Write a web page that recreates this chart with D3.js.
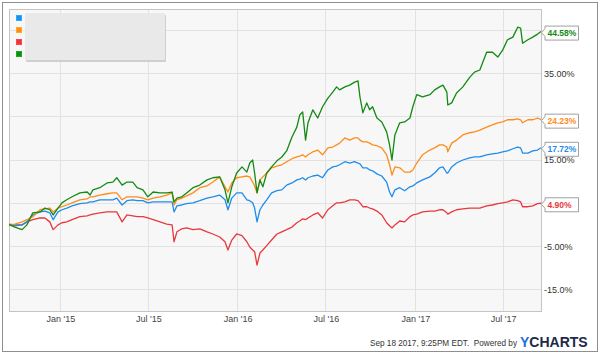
<!DOCTYPE html>
<html><head><meta charset="utf-8">
<script src="https://cdn.jsdelivr.net/npm/d3@7"></script>
<style>
html,body{margin:0;padding:0;background:#fff;}
svg{display:block;font-family:"Liberation Sans",Arial,sans-serif;}
</style></head>
<body>
<svg id="chart" width="600" height="355"></svg>
<script>
const dates = ["2014-09-18","2014-09-30","2014-10-15","2014-10-25","2014-11-06","2014-11-21","2014-12-01","2014-12-11","2014-12-18","2014-12-28",
"2015-01-05","2015-01-15","2015-01-26","2015-02-11","2015-02-26","2015-03-04","2015-03-10","2015-03-24","2015-04-08","2015-04-20",
"2015-04-28","2015-05-09","2015-05-19","2015-05-31","2015-06-09","2015-06-21","2015-07-01","2015-07-12","2015-07-26","2015-08-09",
"2015-08-20","2015-08-24","2015-08-30","2015-09-09","2015-09-19","2015-10-02","2015-10-16","2015-10-31","2015-11-12","2015-11-26",
"2015-12-07","2015-12-13","2015-12-21","2015-12-31","2016-01-11","2016-01-21","2016-01-27","2016-02-02","2016-02-06","2016-02-11",
"2016-02-17","2016-02-23","2016-03-02","2016-03-12","2016-03-23","2016-04-02","2016-04-12","2016-04-23","2016-05-03","2016-05-09",
"2016-05-15","2016-05-21","2016-05-26","2016-06-05","2016-06-15","2016-06-25","2016-07-06","2016-07-16","2016-07-24","2016-07-30",
"2016-08-10","2016-08-20","2016-08-30","2016-09-06","2016-09-10","2016-09-16","2016-09-24","2016-09-30","2016-10-06","2016-10-15",
"2016-10-25","2016-11-04","2016-11-10","2016-11-15","2016-11-21","2016-12-01","2016-12-11","2016-12-22","2016-12-28","2017-01-05",
"2017-01-17","2017-02-01","2017-02-11","2017-02-21","2017-02-28","2017-03-08","2017-03-10","2017-03-18","2017-03-28","2017-04-10",
"2017-04-24","2017-05-04","2017-05-15","2017-05-29","2017-06-10","2017-06-21","2017-07-01","2017-07-11","2017-07-22","2017-08-01",
"2017-08-07","2017-08-11","2017-08-22","2017-09-01","2017-09-11","2017-09-18"];

const blueValues = [0,-0.3,-0.1,0.6,2.2,2.9,3.1,2.7,1.1,2.9,
3.4,3.8,4.3,4.8,5.0,5.2,5.2,5.7,5.7,5.7,
6.1,4.5,5.5,5.7,5.5,5.5,5.0,5.2,5.2,5.2,
5.2,2.9,4.3,4.5,4.8,5.0,5.5,6.1,6.4,6.8,
5.7,3.4,6.1,7.3,7.3,5.7,5.5,5.0,3.8,0.6,
3.4,4.5,5.7,7.3,7.8,8.0,9.1,9.6,10.3,10.5,
10.8,10.3,10.8,11.2,11.4,10.8,12.6,13.3,13.5,13.8,
14.5,14.2,14.5,14.2,14.0,13.1,13.1,12.6,12.4,11.7,
11.2,9.8,7.5,6.4,8.0,8.5,7.8,8.7,8.9,9.6,
10.3,11.0,11.9,13.1,13.3,11.9,11.9,13.3,14.2,14.9,
15.4,15.6,15.6,16.1,16.3,16.5,16.8,17.0,17.5,17.9,
17.7,16.5,16.5,17.0,17.2,17.72];

const orangeValues = [0,0.1,0.6,1.1,1.8,3.4,3.6,3.8,2.9,3.8,
4.1,4.5,5.0,5.7,5.9,6.4,6.4,6.8,7.1,7.3,
7.3,5.7,6.4,6.4,6.4,6.1,5.7,6.1,6.4,6.8,
7.3,4.5,5.7,6.1,6.6,7.3,8.5,8.9,9.8,11.0,
8.7,7.5,9.6,10.8,11.0,11.2,11.0,9.8,8.9,7.3,
10.3,11.0,11.9,13.1,13.5,13.8,14.5,15.2,15.6,15.8,
16.1,15.6,16.1,16.8,17.2,16.1,17.7,17.9,18.4,18.8,
20.0,19.5,20.0,20.0,19.5,19.1,19.1,18.8,18.4,18.2,
17.7,16.1,13.8,11.4,13.3,13.1,12.1,12.1,12.6,14.2,
16.1,17.2,17.7,18.4,18.4,17.9,16.8,18.8,19.5,20.7,
21.2,21.4,21.8,22.5,23.0,23.5,23.7,24.2,24.2,24.4,
24.2,23.5,24.2,24.2,24.6,24.23];

const redValues = [0,-0.1,-0.1,0.6,1.1,1.5,1.5,0.6,-1.2,-0.1,
0.4,0.6,1.1,1.8,2.0,2.2,2.4,2.7,2.9,2.9,
2.9,0.6,2.2,2.0,1.8,1.8,1.5,1.1,0.6,0.1,
-0.1,-4.0,-1.7,-1.0,-0.8,-1.2,-1.0,-1.7,-2.2,-2.9,
-4.0,-5.9,-3.6,-2.2,-2.6,-4.0,-5.2,-5.9,-6.3,-9.4,
-6.6,-5.9,-4.9,-3.6,-2.2,-1.7,-1.2,-0.6,0.4,0.8,
1.3,1.1,1.5,2.2,2.7,1.5,3.4,4.3,5.0,5.0,
5.2,5.7,5.7,5.5,5.0,4.1,4.1,3.8,3.6,3.1,
2.2,0.4,-0.3,-0.8,-0.1,0.8,0.6,1.8,2.2,2.4,
2.9,3.1,3.1,3.4,3.4,2.7,2.4,2.9,3.4,3.6,
3.8,3.8,3.8,4.3,4.5,4.8,5.0,5.2,5.7,5.5,
5.2,4.1,4.1,4.3,4.8,4.90];

const greenValues = [0,-0.6,-1.2,-0.1,2.7,2.9,3.8,3.4,2.2,3.8,
5.0,5.7,6.4,7.3,7.5,6.8,8.0,8.5,9.6,9.8,
10.8,9.1,9.8,9.8,8.5,8.0,6.4,7.5,7.3,7.3,
7.5,5.2,6.1,6.4,7.3,8.5,9.1,10.3,10.8,11.0,
8.0,5.0,8.7,11.9,13.3,12.1,14.2,14.9,11.9,7.3,
10.3,8.7,11.9,13.3,14.7,15.6,17.0,20.2,22.5,25.3,
26.0,19.5,23.5,26.5,24.6,27.2,29.2,30.6,31.8,31.1,
31.8,32.2,32.9,33.2,29.5,25.8,28.1,26.5,27.2,24.6,
23.7,21.4,18.4,14.9,20.7,23.5,23.7,24.6,27.2,30.0,
29.5,30.0,31.1,31.8,32.2,30.6,27.6,28.1,30.4,31.8,
34.0,35.2,35.7,39.8,39.8,38.7,40.3,42.7,43.3,45.6,
45.4,41.9,42.7,43.3,44.0,44.58];

const seriesColors = ["#1f8ceb","#ff8c1a","#e8383d","#138a13"]; // blue, orange, red, green (legend order)
const xTickDates = ["2015-01-01","2015-07-01","2016-01-01","2016-07-01","2017-01-01","2017-07-01"];
const xTickLabels = ["Jan '15","Jul '15","Jan '16","Jul '16","Jan '17","Jul '17"];
const yGridValues = [-15,-5,5,15,25,35,45];
const yLabelValues = [35,15,-5,-15];
const yLabelTexts = ["35.00%","15.00%","-5.00%","-15.0%"];
const footerText = "Sep 18 2017, 9:25PM EDT.  Powered by";

const parse = d3.utcParse("%Y-%m-%d");
const dateObjs = dates.map(parse);
const svg = d3.select("#chart");

const plot = {x0: 9, x1: 541, y0: 9, y1: 311};
const x = d3.scaleUtc().domain([parse("2014-09-18"), parse("2017-09-18")]).range([plot.x0, plot.x1]);
const y = d3.scaleLinear().domain([-20, 49.8]).range([plot.y1, plot.y0]);

// outer frame
svg.append("rect").attr("x",2.5).attr("y",2.5).attr("width",595).attr("height",349)
  .attr("fill","#fff").attr("stroke","#8f8f8f").attr("stroke-width",1);

// plot background
svg.append("rect").attr("x",plot.x0+0.5).attr("y",plot.y0+0.5)
  .attr("width",plot.x1-plot.x0).attr("height",plot.y1-plot.y0)
  .attr("fill","#f7f7f7");

// gridlines
const grid = svg.append("g");
grid.selectAll("line.h").data(yGridValues).join("line")
  .attr("x1",plot.x0).attr("x2",plot.x1)
  .attr("y1",d=>Math.round(y(d))+0.5).attr("y2",d=>Math.round(y(d))+0.5)
  .attr("stroke","#e2e2e2").attr("stroke-width",1);
grid.selectAll("line.v").data(xTickDates).join("line")
  .attr("y1",plot.y0).attr("y2",plot.y1)
  .attr("x1",d=>Math.round(x(parse(d)))+0.5).attr("x2",d=>Math.round(x(parse(d)))+0.5)
  .attr("stroke","#e2e2e2").attr("stroke-width",1);

// plot border
svg.append("rect").attr("x",plot.x0+0.5).attr("y",plot.y0+0.5)
  .attr("width",plot.x1-plot.x0).attr("height",plot.y1-plot.y0)
  .attr("fill","none").attr("stroke","#c4c4c4");

// x axis labels
svg.append("g").selectAll("text").data(xTickDates).join("text")
  .attr("x",d=>x(parse(d))+1).attr("y",322)
  .attr("text-anchor","middle").attr("font-size",9).attr("fill","#444")
  .text((d,i)=>xTickLabels[i]);

// y axis labels
svg.append("g").selectAll("text").data(yLabelValues).join("text")
  .attr("x",544).attr("y",d=>y(d)+3.5)
  .attr("font-size",9).attr("fill","#333")
  .text((d,i)=>yLabelTexts[i]);

// lines
svg.append("clipPath").attr("id","clip").append("rect")
  .attr("x",plot.x0).attr("y",plot.y0).attr("width",plot.x1-plot.x0+1).attr("height",plot.y1-plot.y0);
const line = d3.line().x((d,i)=>x(dateObjs[i])).y(d=>y(d));
const series = [blueValues, orangeValues, redValues, greenValues];
const drawOrder = [2,0,1,3];
const lg = svg.append("g").attr("clip-path","url(#clip)");
drawOrder.forEach(k=>{
  lg.append("path").datum(series[k]).attr("d",line)
    .attr("fill","none").attr("stroke",seriesColors[k]).attr("stroke-width",1.3)
    .attr("stroke-linejoin","round");
});

// end labels
const fmt = d3.format(".2f");
const endG = svg.append("g");
series.forEach((s,k)=>{
  const v = s[s.length-1];
  const cy = y(v) + 1;
  const left = 545, right = 578, h = 14;
  const top = cy - h/2, bot = cy + h/2;
  endG.append("path")
    .attr("d",`M${left},${top+0.5} L${right+0.5},${top+0.5} L${right+0.5},${bot+0.5} L${left},${bot+0.5} L${left},${cy+4} L541.5,${cy} L${left},${cy-4} Z`)
    .attr("fill","#fff").attr("stroke","#a0a0a0").attr("stroke-width",1);
  endG.append("text").attr("x",547.5).attr("y",cy+3.3)
    .attr("font-size",8.5).attr("font-weight","bold").attr("fill",seriesColors[k])
    .text(fmt(v)+"%");
});

// legend
const leg = svg.append("g");
leg.append("rect").attr("x",26).attr("y",15).attr("width",140).attr("height",47).attr("fill","#cfcfcf").attr("rx",1);
leg.append("rect").attr("x",25).attr("y",13).attr("width",140).attr("height",47).attr("fill","#e9e9e9").attr("rx",1);
leg.selectAll("rect.sw").data(seriesColors).join("rect").attr("class","sw")
  .attr("x",16.5).attr("y",(d,i)=>15.5+i*12).attr("width",5).attr("height",5)
  .attr("fill",d=>d).attr("stroke",d=>d3.color(d).brighter(0.6)).attr("stroke-width",1);

// footer
svg.append("text").attr("x",517).attr("y",346).attr("text-anchor","end")
  .attr("font-size",8.2).attr("fill","#333").attr("xml:space","preserve").text(footerText);
const logo = svg.append("text").attr("x",520).attr("y",347).attr("font-size",14).attr("font-weight","bold");
logo.append("tspan").attr("fill","#1a73d9").text("Y");
logo.append("tspan").attr("fill","#1b2a47").text("CHARTS");
</script>
</body></html>
